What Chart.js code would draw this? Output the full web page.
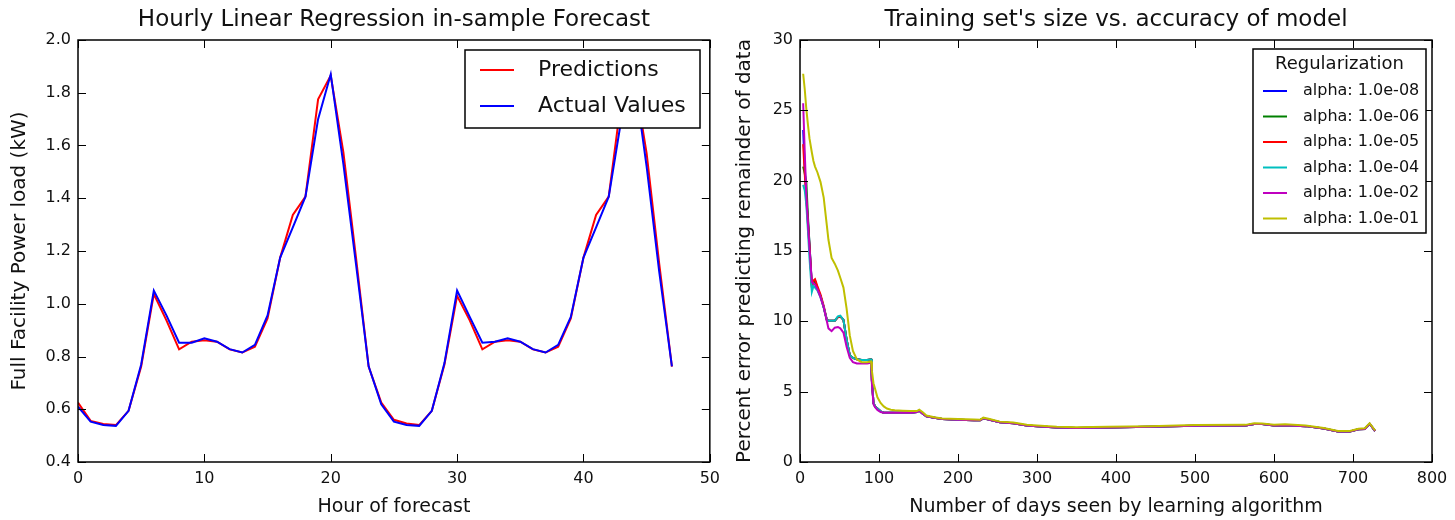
<!DOCTYPE html>
<html>
<head>
<meta charset="utf-8">
<script src="https://cdn.jsdelivr.net/npm/chart.js@4.4.0/dist/chart.umd.min.js"></script>
<style>
  body { margin: 0; background: #fff; }
  #left { position: absolute; left: 0; top: 0; }
  #right { position: absolute; left: 727px; top: 0; }
</style>
</head>
<body>
<canvas id="left" width="727" height="520"></canvas>
<canvas id="right" width="728" height="520"></canvas>
<script>
// left chart: hourly forecast
const hours = [];
for (let h = 0; h < 48; h++) hours.push(h);
const predictions = [0.625, 0.556, 0.544, 0.54, 0.594, 0.762, 1.037, 0.937, 0.827, 0.856, 0.862, 0.856, 0.827, 0.815, 0.837, 0.944, 1.175, 1.337, 1.406, 1.775, 1.865, 1.575, 1.175, 0.762,
                     0.625, 0.56, 0.546, 0.54, 0.594, 0.77, 1.03, 0.937, 0.827, 0.856, 0.862, 0.856, 0.827, 0.815, 0.837, 0.944, 1.175, 1.337, 1.406, 1.775, 1.865, 1.57, 1.15, 0.762];
const actualValues = [0.61, 0.553, 0.54, 0.537, 0.594, 0.77, 1.05, 0.956, 0.852, 0.852, 0.869, 0.856, 0.828, 0.815, 0.844, 0.956, 1.175, 1.29, 1.406, 1.70, 1.87, 1.53, 1.15, 0.763,
                      0.619, 0.553, 0.54, 0.537, 0.594, 0.775, 1.05, 0.95, 0.852, 0.856, 0.869, 0.856, 0.828, 0.815, 0.844, 0.95, 1.175, 1.29, 1.406, 1.70, 1.87, 1.52, 1.12, 0.763];

// right chart: training set size vs error
const headDays = [4, 6, 8, 10, 12, 15, 17, 19, 22, 26, 30, 34, 36, 40, 44, 48, 51, 55, 59, 63, 67, 72, 78, 85, 90, 91, 93, 95, 98, 102, 106, 110];
const tailDays = [115, 120, 130, 140, 148, 151, 155, 160, 170, 180, 200, 220, 228, 232, 240, 253, 270, 287, 300, 325, 350, 390, 443, 500, 564, 575, 585, 600, 614, 640, 663, 681, 696, 707, 715, 721, 728];

const head1e08 = [23.6, 21.0, 18.8, 17.2, 15.5, 12.6, 12.8, 12.9, 12.3, 11.8, 11.0, 10.1, 10.05, 10.05, 10.05, 10.3, 10.35, 10.1, 8.7, 7.6, 7.4, 7.3, 7.25, 7.25, 7.3, 5.8, 4.2, 3.95, 3.8, 3.6, 3.5, 3.5];
const head1e06 = [21.0, 20.5, 19.9, 17.5, 15.5, 12.5, 12.8, 12.9, 12.3, 11.8, 11.0, 10.1, 10.05, 10.05, 10.05, 10.3, 10.35, 10.1, 8.7, 7.6, 7.4, 7.3, 7.25, 7.25, 7.3, 5.8, 4.2, 3.95, 3.8, 3.6, 3.5, 3.5];
const head1e05 = [22.6, 20.5, 18.6, 17.0, 15.3, 12.5, 12.9, 13.0, 12.5, 11.9, 11.1, 10.1, 10.05, 10.05, 10.05, 10.3, 10.35, 10.1, 8.7, 7.6, 7.4, 7.3, 7.25, 7.25, 7.3, 5.8, 4.2, 3.95, 3.8, 3.6, 3.5, 3.5];
const head1e04 = [19.7, 19.3, 18.3, 16.5, 14.5, 12.1, 12.5, 12.4, 12.2, 11.7, 11.0, 10.1, 10.05, 10.05, 10.05, 10.35, 10.4, 10.1, 8.7, 7.6, 7.4, 7.3, 7.25, 7.25, 7.3, 5.8, 4.2, 3.95, 3.8, 3.6, 3.5, 3.5];
const head1e02 = [25.5, 22.0, 19.0, 17.0, 15.2, 12.8, 12.7, 12.6, 12.3, 11.7, 11.0, 10.0, 9.5, 9.3, 9.55, 9.6, 9.5, 9.2, 8.2, 7.4, 7.1, 7.0, 7.0, 7.0, 7.05, 5.6, 4.1, 3.9, 3.7, 3.55, 3.5, 3.5];
const head1e01 = [27.6, 26.5, 25.1, 24.0, 23.0, 22.0, 21.4, 21.0, 20.6, 19.9, 18.8, 16.8, 15.8, 14.5, 14.1, 13.6, 13.1, 12.4, 10.9, 9.0, 7.9, 7.3, 7.1, 7.1, 7.15, 6.5, 5.6, 5.2, 4.6, 4.2, 3.95, 3.8];
const tailLow = [3.5, 3.5, 3.5, 3.5, 3.55, 3.65, 3.45, 3.25, 3.15, 3.05, 3.0, 2.97, 2.97, 3.1, 3.0, 2.82, 2.75, 2.6, 2.55, 2.45, 2.42, 2.45, 2.5, 2.58, 2.6, 2.7, 2.7, 2.6, 2.62, 2.55, 2.38, 2.17, 2.17, 2.32, 2.35, 2.72, 2.2];
const tailHigh = [3.72, 3.68, 3.65, 3.63, 3.62, 3.72, 3.55, 3.3, 3.18, 3.1, 3.05, 3.02, 3.0, 3.15, 3.05, 2.87, 2.8, 2.65, 2.6, 2.5, 2.47, 2.5, 2.55, 2.63, 2.64, 2.76, 2.74, 2.65, 2.68, 2.6, 2.42, 2.21, 2.21, 2.36, 2.4, 2.76, 2.24];

const alphaLabels = ['alpha: 1.0e-08', 'alpha: 1.0e-06', 'alpha: 1.0e-05', 'alpha: 1.0e-04', 'alpha: 1.0e-02', 'alpha: 1.0e-01'];
const alphaColors = ['#0000ff', '#008000', '#ff0000', '#00bfbf', '#bf00bf', '#bfbf00'];
const alphaHeads = [head1e08, head1e06, head1e05, head1e04, head1e02, head1e01];

const FONT = 'DejaVu Sans';

function toPoints(head, tail) {
    const pts = headDays.map((d, i) => ({ x: d, y: head[i] }));
    tailDays.forEach((d, i) => pts.push({ x: d, y: tail[i] }));
    return pts;
}

// title centred over the plot box (matplotlib style), inner ticks and black frame
function frameTicks(title) {
    return {
        id: 'frameTicks',
        afterDraw(chart) {
            const { ctx, chartArea: a, scales } = chart;
            ctx.save();
            ctx.strokeStyle = '#000';
            ctx.lineWidth = 1;
            ctx.beginPath();
            scales.x.ticks.forEach(t => {
                const px = Math.round(scales.x.getPixelForValue(t.value)) + 0.5;
                ctx.moveTo(px, a.bottom); ctx.lineTo(px, a.bottom - 8);
                ctx.moveTo(px, a.top); ctx.lineTo(px, a.top + 8);
            });
            scales.y.ticks.forEach(t => {
                const py = Math.round(scales.y.getPixelForValue(t.value)) + 0.5;
                ctx.moveTo(a.left, py); ctx.lineTo(a.left + 8, py);
                ctx.moveTo(a.right, py); ctx.lineTo(a.right - 8, py);
            });
            ctx.stroke();
            ctx.lineWidth = 1.5;
            ctx.strokeRect(a.left, a.top, a.right - a.left, a.bottom - a.top);

            ctx.fillStyle = '#111';
            ctx.font = '23px "' + FONT + '"';
            ctx.textAlign = 'center';
            ctx.textBaseline = 'middle';
            ctx.fillText(title, (a.left + a.right) / 2, 20);
            ctx.restore();
        }
    };
}

// legend drawn as a boxed list, like the original
function boxLegend(opts) {
    return {
        id: 'boxLegend',
        afterDraw(chart) {
            const ctx = chart.ctx;
            const o = opts;
            ctx.save();
            ctx.fillStyle = '#fff';
            ctx.fillRect(o.x, o.y, o.w, o.h);
            ctx.strokeStyle = '#000';
            ctx.lineWidth = 1.5;
            ctx.strokeRect(o.x, o.y, o.w, o.h);
            ctx.fillStyle = '#111';
            ctx.textBaseline = 'middle';
            if (o.title) {
                ctx.font = o.titleSize + 'px "' + FONT + '"';
                ctx.textAlign = 'center';
                ctx.fillText(o.title, o.x + o.w / 2, o.titleY);
            }
            ctx.font = o.size + 'px "' + FONT + '"';
            ctx.textAlign = 'left';
            chart.data.datasets.forEach((ds, i) => {
                const y = o.firstY + i * o.step;
                ctx.strokeStyle = ds.borderColor;
                ctx.lineWidth = 2;
                ctx.beginPath();
                ctx.moveTo(o.lineX, y);
                ctx.lineTo(o.lineX + o.lineW, y);
                ctx.stroke();
                ctx.fillStyle = '#111';
                ctx.fillText(ds.label, o.textX, y);
            });
            ctx.restore();
        }
    };
}

function axisOptions(min, max, step, title, titleSize, fit, titlePad, fmt) {
    return {
        type: 'linear',
        min: min, max: max,
        grid: { display: false, drawTicks: false },
        border: { display: false },
        ticks: {
            stepSize: step,
            color: '#111',
            font: { family: FONT, size: 16 },
            padding: 7,
            autoSkip: false,
            maxRotation: 0,
            callback: fmt
        },
        title: {
            display: true,
            text: title,
            color: '#111',
            font: { family: FONT, size: titleSize },
            padding: titlePad
        },
        afterFit: fit
    };
}

new Chart(document.getElementById('left'), {
    type: 'line',
    data: {
        datasets: [
            {
                label: 'Predictions',
                data: hours.map((h, i) => ({ x: h, y: predictions[i] })),
                borderColor: '#ff0000',
                borderWidth: 2,
                pointRadius: 0,
                order: 1
            },
            {
                label: 'Actual Values',
                data: hours.map((h, i) => ({ x: h, y: actualValues[i] })),
                borderColor: '#0000ff',
                borderWidth: 2,
                pointRadius: 0,
                order: 0
            }
        ]
    },
    options: {
        responsive: false,
        animation: false,
        devicePixelRatio: 1,
        layout: { padding: { left: 0, right: 14, top: 40, bottom: 0 } },
        plugins: {
            legend: { display: false },
            tooltip: { enabled: false },
            title: { display: false }
        },
        scales: {
            x: axisOptions(0, 50, 10, 'Hour of forecast', 19, s => { s.height = 58; }, { top: 0, bottom: 2 }, v => v),
            y: axisOptions(0.4, 2.0, 0.2, 'Full Facility Power load (kW)', 20, s => { s.width = 78; }, { top: 8, bottom: 0 }, v => v.toFixed(1))
        }
    },
    plugins: [frameTicks('Hourly Linear Regression in-sample Forecast'),
              boxLegend({ x: 465, y: 50, w: 235, h: 78, size: 22, firstY: 70, step: 36, lineX: 480, lineW: 34, textX: 538 })]
});

new Chart(document.getElementById('right'), {
    type: 'line',
    data: {
        datasets: alphaLabels.map((label, i) => ({
            label: label,
            data: toPoints(alphaHeads[i], i === 5 ? tailHigh : tailLow),
            borderColor: alphaColors[i],
            borderWidth: 2,
            pointRadius: 0,
            order: 5 - i
        }))
    },
    options: {
        responsive: false,
        animation: false,
        devicePixelRatio: 1,
        layout: { padding: { left: 0, right: 23, top: 40, bottom: 0 } },
        plugins: {
            legend: { display: false },
            tooltip: { enabled: false },
            title: { display: false }
        },
        scales: {
            x: axisOptions(0, 800, 100, 'Number of days seen by learning algorithm', 19, s => { s.height = 58; }, { top: 0, bottom: 2 }, v => v),
            y: axisOptions(0, 30, 5, 'Percent error predicting remainder of data', 20, s => { s.width = 73; }, { top: 6, bottom: 0 }, v => v)
        }
    },
    plugins: [frameTicks("Training set's size vs. accuracy of model"),
              boxLegend({ x: 526, y: 49, w: 173, h: 184, title: 'Regularization', titleSize: 18, titleY: 64, size: 16, firstY: 91, step: 25.5, lineX: 536, lineW: 24, textX: 576 })]
});
</script>
</body>
</html>
